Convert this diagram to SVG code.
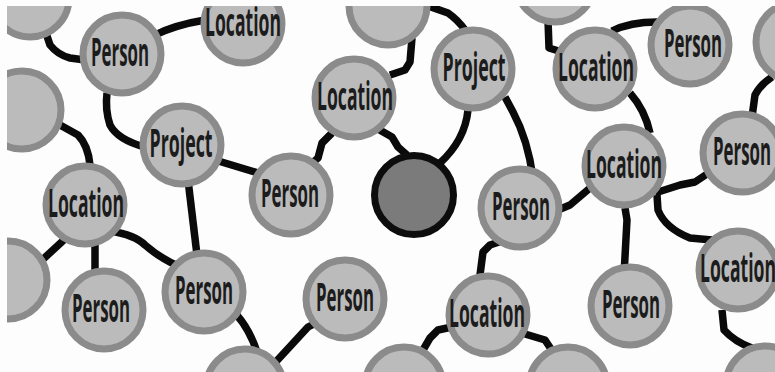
<svg xmlns="http://www.w3.org/2000/svg" width="775" height="372" viewBox="0 0 775 372">
  <defs>
    <clipPath id="frame"><rect x="7" y="6" width="768" height="366"/></clipPath>
  </defs>
  <style>
    .edge { fill: none; stroke: #0a0a0a; stroke-width: 7.5; stroke-linejoin: round; stroke-linecap: butt; }
    .node circle { fill: #bbbbbb; stroke: #8b8b8b; stroke-width: 7; }
    .node.hub circle { fill: #7b7b7b; stroke: #0d0d0d; stroke-width: 7; }
    .node text { font-family: "Open Sans", "DejaVu Sans", sans-serif; font-weight: 700; font-size: 39px; fill: #1c1c1c; text-anchor: middle; }
  </style>
  <rect width="775" height="372" fill="#fdfdfd"/>
  <g clip-path="url(#frame)">
    <g id="connectors">
      <path class="edge" d="M45 30 L50 45 Q58 55 70 58 L85 60"/>
      <path class="edge" d="M155 35 Q175 25 205 20"/>
      <path class="edge" d="M60 125 L78 135 Q88 145 90 165"/>
      <path class="edge" d="M107 93 Q105 110 110 125 Q118 140 145 147"/>
      <path class="edge" d="M215 160 L258 173"/>
      <path class="edge" d="M188 180 L197 255"/>
      <path class="edge" d="M66 238 L40 262"/>
      <path class="edge" d="M95 240 L95 272"/>
      <path class="edge" d="M110 231 Q135 235 145 245 Q160 258 178 266"/>
      <path class="edge" d="M236 314 Q250 330 257 352"/>
      <path class="edge" d="M318 322 L308 327 L272 366"/>
      <path class="edge" d="M332 133 L322 143 L318 158 L310 165"/>
      <path class="edge" d="M378 129 L392 137 L398 147 L407 155"/>
      <path class="edge" d="M390 75 L405 70 L410 62 L412 38"/>
      <path class="edge" d="M428 6 L448 13 Q458 20 465 30"/>
      <path class="edge" d="M468 110 Q465 140 440 163"/>
      <path class="edge" d="M505 97 L513 112 Q528 140 533 178"/>
      <path class="edge" d="M548 20 L549 48 L562 52"/>
      <path class="edge" d="M612 31 Q630 22 657 22"/>
      <path class="edge" d="M630 93 Q645 110 650 133"/>
      <path class="edge" d="M558 210 L570 205 L590 188"/>
      <path class="edge" d="M505 240 L490 245 L483 252 L480 275"/>
      <path class="edge" d="M452 327 L438 330 L430 338 L423 350"/>
      <path class="edge" d="M525 334 L545 340 L553 352"/>
      <path class="edge" d="M752 117 L755 95 Q760 85 772 77"/>
      <path class="edge" d="M655 193 L680 185 L695 182 L710 172"/>
      <path class="edge" d="M625 208 L627 220 L624 275"/>
      <path class="edge" d="M657 195 L658 210 Q665 228 690 238 L712 240"/>
      <path class="edge" d="M722 310 L724 330 Q735 342 752 348"/>
    </g>

    <!-- labels are set at full size and narrowed with scale(0.45 1) -->
    <g id="n1" class="node"><circle cx="30" cy="-2" r="39"/></g>
    <g id="n2" class="node"><circle cx="122" cy="54" r="39"/><text transform="translate(120 66) scale(0.45 1)" textLength="129" lengthAdjust="spacingAndGlyphs">Person</text></g>
    <g id="n3" class="node"><circle cx="243" cy="24" r="39"/><text transform="translate(243 36) scale(0.45 1)" textLength="169" lengthAdjust="spacingAndGlyphs">Location</text></g>
    <g id="n4" class="node"><circle cx="22" cy="110" r="39"/></g>
    <g id="n5" class="node"><circle cx="182" cy="145" r="39"/><text transform="translate(181 157) scale(0.45 1)" textLength="140" lengthAdjust="spacingAndGlyphs">Project</text></g>
    <g id="n6" class="node"><circle cx="85" cy="205" r="39"/><text transform="translate(86 217) scale(0.45 1)" textLength="169" lengthAdjust="spacingAndGlyphs">Location</text></g>
    <g id="n7" class="node"><circle cx="104" cy="310" r="39"/><text transform="translate(101 322) scale(0.45 1)" textLength="129" lengthAdjust="spacingAndGlyphs">Person</text></g>
    <g id="n8" class="node"><circle cx="8" cy="280" r="39"/></g>
    <g id="n9" class="node"><circle cx="204" cy="292" r="39"/><text transform="translate(204 304) scale(0.45 1)" textLength="129" lengthAdjust="spacingAndGlyphs">Person</text></g>
    <g id="n10" class="node"><circle cx="245" cy="388" r="39"/></g>
    <g id="n11" class="node"><circle cx="291" cy="195" r="39"/><text transform="translate(290 207) scale(0.45 1)" textLength="129" lengthAdjust="spacingAndGlyphs">Person</text></g>
    <g id="n12" class="node hub"><circle cx="414" cy="195" r="39.5"/></g>
    <g id="n13" class="node"><circle cx="354" cy="98" r="39"/><text transform="translate(355 110) scale(0.45 1)" textLength="169" lengthAdjust="spacingAndGlyphs">Location</text></g>
    <g id="n14" class="node"><circle cx="388" cy="6" r="39"/></g>
    <g id="n15" class="node"><circle cx="473" cy="69" r="39"/><text transform="translate(474 81) scale(0.45 1)" textLength="140" lengthAdjust="spacingAndGlyphs">Project</text></g>
    <g id="n16" class="node"><circle cx="520" cy="208" r="39"/><text transform="translate(521 220) scale(0.45 1)" textLength="129" lengthAdjust="spacingAndGlyphs">Person</text></g>
    <g id="n17" class="node"><circle cx="345" cy="299" r="39"/><text transform="translate(345 311) scale(0.45 1)" textLength="129" lengthAdjust="spacingAndGlyphs">Person</text></g>
    <g id="n18" class="node"><circle cx="488" cy="315" r="39"/><text transform="translate(487 327) scale(0.45 1)" textLength="169" lengthAdjust="spacingAndGlyphs">Location</text></g>
    <g id="n19" class="node"><circle cx="404" cy="386" r="39"/></g>
    <g id="n20" class="node"><circle cx="568" cy="386" r="39"/></g>
    <g id="n21" class="node"><circle cx="555" cy="-17" r="39"/></g>
    <g id="n22" class="node"><circle cx="595" cy="69" r="39"/><text transform="translate(596 81) scale(0.45 1)" textLength="169" lengthAdjust="spacingAndGlyphs">Location</text></g>
    <g id="n23" class="node"><circle cx="690" cy="45" r="39"/><text transform="translate(693 57) scale(0.45 1)" textLength="129" lengthAdjust="spacingAndGlyphs">Person</text></g>
    <g id="n24" class="node"><circle cx="795" cy="42" r="39"/></g>
    <g id="n25" class="node"><circle cx="624" cy="166" r="39"/><text transform="translate(624 178) scale(0.45 1)" textLength="169" lengthAdjust="spacingAndGlyphs">Location</text></g>
    <g id="n26" class="node"><circle cx="742" cy="153" r="39"/><text transform="translate(742 165) scale(0.45 1)" textLength="129" lengthAdjust="spacingAndGlyphs">Person</text></g>
    <g id="n27" class="node"><circle cx="630" cy="306" r="39"/><text transform="translate(631 318) scale(0.45 1)" textLength="129" lengthAdjust="spacingAndGlyphs">Person</text></g>
    <g id="n28" class="node"><circle cx="738" cy="270" r="39"/><text transform="translate(738 282) scale(0.45 1)" textLength="169" lengthAdjust="spacingAndGlyphs">Location</text></g>
    <g id="n29" class="node"><circle cx="765" cy="385" r="39"/></g>
  </g>
</svg>
